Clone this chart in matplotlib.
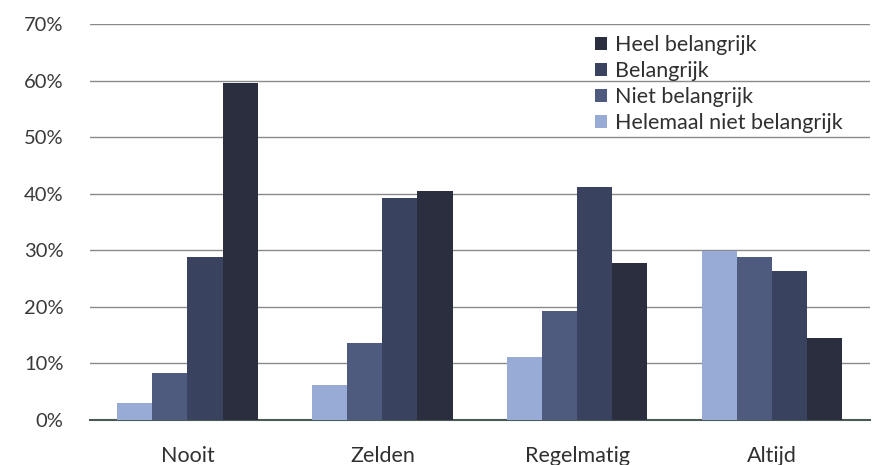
import matplotlib
matplotlib.use("Agg")
import matplotlib.pyplot as plt
import numpy as np

categories = ["Nooit", "Zelden", "Regelmatig", "Altijd"]
series_names = ["Helemaal niet belangrijk", "Niet belangrijk", "Belangrijk", "Heel belangrijk"]
helemaal_niet = [3.0, 6.2, 11.1, 29.8]
niet = [8.3, 13.6, 19.3, 28.8]
belangrijk = [28.8, 39.3, 41.2, 26.3]
heel = [59.6, 40.4, 27.7, 14.5]
yticks = [0, 10, 20, 30, 40, 50, 60, 70]
ytick_labels = ["0%", "10%", "20%", "30%", "40%", "50%", "60%", "70%"]

colors = ["#98abd6", "#4f5b7e", "#39425f", "#2a2e3e"]
values = [helemaal_niet, niet, belangrijk, heel]

plt.rcParams['font.family'] = ['Lato', 'DejaVu Sans']
fig = plt.figure(figsize=(8.74, 4.65), dpi=100)
ax = fig.add_axes([0.103, 0.0968, 0.892, 0.8516])

x = np.arange(len(categories))
w = 0.18
handles = []
for i, (vals, c, name) in enumerate(zip(values, colors, series_names)):
    b = ax.bar(x + (i - 1.5) * w, vals, width=w, color=c, label=name, zorder=3)
    handles.append(b)

ax.set_xlim(-0.5, 3.5)
ax.set_ylim(0, 70)
ax.set_yticks(yticks)
ax.set_yticklabels(ytick_labels, fontsize=14.5, color="#3a3a3a")
ax.set_xticks(x)
ax.set_xticklabels(categories, fontsize=15.5, color="#303030")
ax.tick_params(axis='both', length=0)
ax.tick_params(axis='y', pad=19)
ax.tick_params(axis='x', pad=19)
ax.yaxis.grid(True, color="#8a8a8a", linewidth=1.0, zorder=0)
ax.set_axisbelow(True)
for s in ["top", "right", "left"]:
    ax.spines[s].set_visible(False)
ax.spines["bottom"].set_color("#4a5a55")
ax.spines["bottom"].set_linewidth(1.5)

leg = ax.legend(handles[::-1], series_names[::-1], loc="upper left",
                bbox_to_anchor=(0.648, 0.972), frameon=False, fontsize=15.5,
                handlelength=0.55, handleheight=0.55, handletextpad=0.35,
                labelspacing=0.28, borderaxespad=0, borderpad=0)
for t in leg.get_texts():
    t.set_color("#303030")

fig.savefig("out.png", dpi=100)
